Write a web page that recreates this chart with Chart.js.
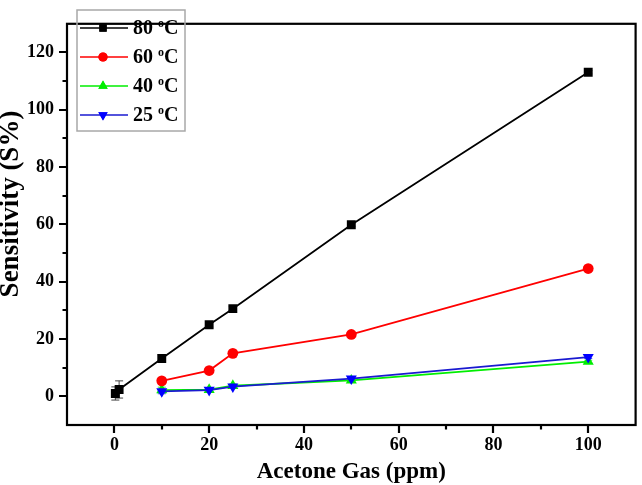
<!DOCTYPE html>
<html>
<head>
<meta charset="utf-8">
<script src="https://cdn.jsdelivr.net/npm/chart.js@4.4.0/dist/chart.umd.min.js"></script>
<style>
  html, body { margin: 0; padding: 0; background: #fff; }
  #wrap { width: 642px; height: 485px; }
</style>
</head>
<body>
<div id="wrap"><canvas id="c" width="642" height="485"></canvas></div>
<script>
// ---- data ----
const seriesLabels = ['80 ºC', '60 ºC', '40 ºC', '25 ºC'];
const x80 = [0.2, 1, 10, 20, 25, 50, 100];
const y80 = [1.0, 2.4, 13.2, 25.0, 30.6, 59.9, 113.1];
const e80 = [2.3, 3.0, 1.3, 0.8, 0.8, 0.6, 0.6];
const x60 = [10, 20, 25, 50, 100];
const y60 = [5.4, 9.0, 15.0, 21.6, 44.6];
const e60 = [0.6, 0.5, 0.5, 0.5, 0.5];
const x40 = [10, 20, 25, 50, 100];
const y40 = [2.2, 2.3, 3.7, 5.6, 12.1];
const e40 = [1.0, 0.6, 0.6, 0.5, 0.5];
const x25 = [10, 20, 25, 50, 100];
const y25 = [1.7, 2.2, 3.4, 6.2, 13.7];
const e25 = [0.8, 0.6, 0.6, 0.5, 0.5];
const xTicks = [0, 20, 40, 60, 80, 100];
const yTicks = [0, 20, 40, 60, 80, 100, 120];
const xMinor = [10, 30, 50, 70, 90];
const yMinor = [10, 30, 50, 70, 90, 110];
const xTitle = 'Acetone Gas (ppm)';
const yTitle = 'Sensitivity (S%)';

const SERIF = "'Liberation Serif', 'Times New Roman', serif";

function pts(xs, ys, es) { return xs.map((x, i) => ({ x: x, y: ys[i], e: es[i] })); }

const datasets = [
  { label: seriesLabels[0], data: pts(x80, y80, e80), borderColor: '#000000', backgroundColor: '#000000',
    pointStyle: 'rect', pointRadius: 6.3, pointRotation: 0, order: 0, errColor: '#444', legR: 5.2 },
  { label: seriesLabels[1], data: pts(x60, y60, e60), borderColor: '#ff0000', backgroundColor: '#ff0000',
    pointStyle: 'circle', pointRadius: 5.4, pointRotation: 0, order: 1, errColor: '#ff6060', legR: 4.6 },
  { label: seriesLabels[2], data: pts(x40, y40, e40), borderColor: '#00ee00', backgroundColor: '#00ee00',
    pointStyle: 'triangle', pointRadius: 6.4, pointRotation: 0, order: 3, errColor: '#40ee40', legR: 5.4 },
  { label: seriesLabels[3], data: pts(x25, y25, e25), borderColor: '#1a1ad0', backgroundColor: '#0000ff',
    pointStyle: 'triangle', pointRadius: 6.4, pointRotation: 180, order: 2, errColor: '#5050ff', legR: 5.4 }
];
datasets.forEach(d => { d.borderWidth = 1.8; d.pointBorderWidth = 0; d.showLine = true; d.fill = false; d.tension = 0; });

const framePlugin = {
  id: 'frame',
  beforeDatasetsDraw(chart) {
    const ctx = chart.ctx, xs = chart.scales.x, ys = chart.scales.y;
    chart.data.datasets.forEach((ds) => {
      ctx.save();
      ctx.strokeStyle = ds.errColor;
      ctx.lineWidth = 1;
      ds.data.forEach(p => {
        const px = xs.getPixelForValue(p.x);
        const top = ys.getPixelForValue(p.y + p.e);
        const bot = ys.getPixelForValue(p.y - p.e);
        ctx.beginPath();
        ctx.moveTo(px, top); ctx.lineTo(px, bot);
        ctx.moveTo(px - 4, top); ctx.lineTo(px + 4, top);
        ctx.moveTo(px - 4, bot); ctx.lineTo(px + 4, bot);
        ctx.stroke();
      });
      ctx.restore();
    });
  },
  afterDraw(chart) {
    const ctx = chart.ctx, a = chart.chartArea, xs = chart.scales.x, ys = chart.scales.y;
    ctx.save();
    ctx.strokeStyle = '#000';
    ctx.lineWidth = 2.2;
    ctx.strokeRect(a.left, a.top, a.right - a.left, a.bottom - a.top);
    ctx.beginPath();
    xTicks.forEach(v => { const p = Math.round(xs.getPixelForValue(v)); ctx.moveTo(p, a.bottom); ctx.lineTo(p, a.bottom + 8); });
    xMinor.forEach(v => { const p = Math.round(xs.getPixelForValue(v)); ctx.moveTo(p, a.bottom); ctx.lineTo(p, a.bottom + 4.5); });
    yTicks.forEach(v => { const p = Math.round(ys.getPixelForValue(v)); ctx.moveTo(a.left, p); ctx.lineTo(a.left - 8, p); });
    yMinor.forEach(v => { const p = Math.round(ys.getPixelForValue(v)); ctx.moveTo(a.left, p); ctx.lineTo(a.left - 4.5, p); });
    ctx.stroke();

    // y axis title (rotated), placed as in the reference
    ctx.save();
    ctx.translate(11, 204);
    ctx.rotate(-Math.PI / 2);
    ctx.fillStyle = '#000';
    ctx.font = 'bold 27px ' + SERIF;
    ctx.textAlign = 'center';
    ctx.textBaseline = 'middle';
    ctx.fillText(yTitle, 0, 0);
    ctx.restore();

    // legend
    const bx = 77, by = 10, bw = 108, bh = 121;
    ctx.lineWidth = 1.5;
    ctx.strokeStyle = '#a8a8a8';
    ctx.strokeRect(bx, by, bw, bh);
    const rows = [28, 57, 86, 115];
    [0, 1, 2, 3].forEach((di, r) => {
      const ds = chart.data.datasets[di];
      const y = rows[r];
      ctx.strokeStyle = ds.borderColor;
      ctx.lineWidth = 1.6;
      ctx.beginPath(); ctx.moveTo(80, y); ctx.lineTo(128, y); ctx.stroke();
      ctx.fillStyle = ds.backgroundColor;
      Chart.helpers.drawPoint(ctx, { pointStyle: ds.pointStyle, radius: ds.legR, rotation: ds.pointRotation, borderWidth: 0 }, 103, y);
      ctx.fill();
      const parts = ds.label.split(' ');
      const num = parts[0] + ' ';
      ctx.fillStyle = '#000';
      ctx.textBaseline = 'middle';
      ctx.textAlign = 'left';
      ctx.font = 'bold 20px ' + SERIF;
      ctx.fillText(num, 133, y + 1);
      let tx = 133 + ctx.measureText(num).width;
      ctx.font = 'bold 12px ' + SERIF;
      ctx.fillText('o', tx, y - 4);
      tx += ctx.measureText('o').width;
      ctx.font = 'bold 20px ' + SERIF;
      ctx.fillText('C', tx, y + 1);
    });
    ctx.restore();
  }
};

new Chart(document.getElementById('c'), {
  type: 'scatter',
  data: { datasets: datasets },
  options: {
    responsive: false,
    animation: false,
    devicePixelRatio: 1,
    layout: { padding: { top: 2, right: 5, left: 0, bottom: 0 } },
    plugins: { legend: { display: false }, tooltip: { enabled: false } },
    scales: {
      x: {
        type: 'linear', min: -10, max: 110,
        afterBuildTicks: s => { s.ticks = xTicks.map(v => ({ value: v })); },
        afterFit: s => { s.height = 60; },
        grid: { display: false, drawTicks: false },
        border: { display: false },
        ticks: { color: '#000', padding: 10, font: { family: SERIF, size: 18, weight: 'bold' }, autoSkip: false, maxRotation: 0 },
        title: { display: true, text: xTitle, color: '#000', padding: { top: 0, bottom: 1 },
          font: { family: SERIF, size: 23, weight: 'bold', lineHeight: 1 } }
      },
      y: {
        type: 'linear', min: -10, max: 130,
        afterBuildTicks: s => { s.ticks = yTicks.map(v => ({ value: v })); },
        afterFit: s => { s.width = 67; },
        grid: { display: false, drawTicks: false },
        border: { display: false },
        ticks: { color: '#000', padding: 13, font: { family: SERIF, size: 18, weight: 'bold' }, autoSkip: false },
        title: { display: false, text: yTitle }
      }
    }
  },
  plugins: [framePlugin]
});
</script>
</body>
</html>
